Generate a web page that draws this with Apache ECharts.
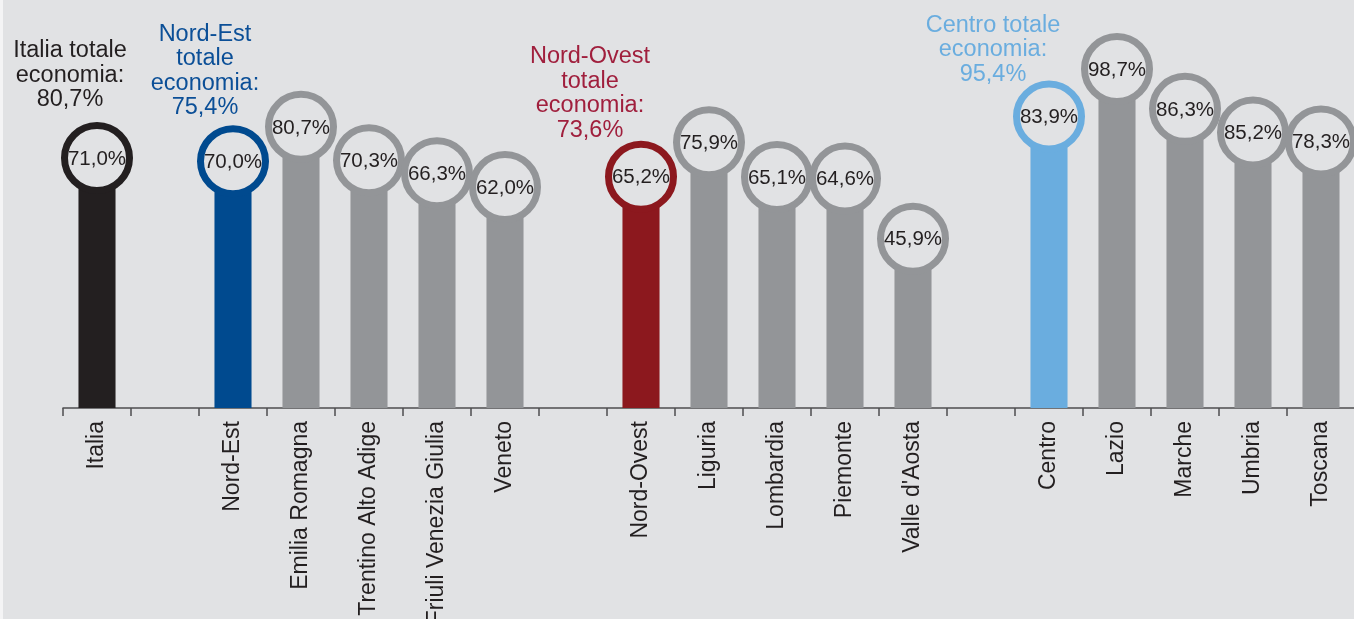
<!DOCTYPE html>
<html>
<head>
<meta charset="utf-8">
<script src="https://cdn.jsdelivr.net/npm/echarts@6/dist/echarts.min.js"></script>
<style>
  html, body { margin: 0; padding: 0; background: #e1e2e4; }
  #chart { width: 1354px; height: 619px; }
</style>
</head>
<body>
<div id="chart"></div>
<script>
// ---- Data ----
const categories = ['Italia', '', 'Nord-Est', 'Emilia Romagna', 'Trentino Alto Adige', 'Friuli Venezia Giulia', 'Veneto', '',
  'Nord-Ovest', 'Liguria', 'Lombardia', 'Piemonte', "Valle d'Aosta", '',
  'Centro', 'Lazio', 'Marche', 'Umbria', 'Toscana'];
const values = [71.0, null, 70.0, 80.7, 70.3, 66.3, 62.0, null,
  65.2, 75.9, 65.1, 64.6, 45.9, null,
  83.9, 98.7, 86.3, 85.2, 78.3];
// "totale economia" annotations
const noteCategories = ['Italia', 'Nord-Est', 'Nord-Ovest', 'Centro'];
const noteHeads = ['Italia totale', 'Nord-Est\ntotale', 'Nord-Ovest\ntotale', 'Centro totale'];
const noteTotals = [80.7, 75.4, 73.6, 95.4];

// ---- Styling ----
const BG = '#e1e2e4';
const GRAY = '#939598';
const leadColors = { 'Italia': '#231f20', 'Nord-Est': '#004a8f', 'Nord-Ovest': '#8c181e', 'Centro': '#6aaddf' };
const noteColors = ['#231f20', '#0b4f97', '#a01f3d', '#6aaddf'];
const noteOffsets = [[-27, -46], [-28, -41], [-51, -34], [-56, -30]]; // px, relative to bubble centre
const bubbleNudge = { 'Umbria': 20, 'Toscana': 7 }; // overlap avoidance, px
const Y_MIN = -6.8, Y_MAX = 100;
const FONT = '"Liberation Sans", Arial, Helvetica, sans-serif';

const fmt = v => v.toFixed(1).replace('.', ',') + '%';

const chart = echarts.init(document.getElementById('chart'), null, { renderer: 'canvas' });

const seriesData = categories.map((c, i) => [i, values[i] == null ? '-' : values[i]]);

function renderItem(params, api) {
  const i = api.value(0);
  const v = api.value(1);
  if (v == null || isNaN(v)) return;
  const name = categories[i];
  const top = api.coord([i, v]);
  const base = api.coord([i, Y_MIN]);
  const bw = api.size([1, 0])[0] * 0.545;
  const color = leadColors[name] || GRAY;
  const cy = top[1] + (bubbleNudge[name] || 0);
  const children = [
    { type: 'rect', shape: { x: top[0] - bw / 2, y: top[1], width: bw, height: base[1] - top[1] }, style: { fill: color } },
    { type: 'circle', shape: { cx: top[0], cy: cy, r: 32.5 }, style: { fill: BG, stroke: color, lineWidth: 7 } },
    { type: 'text', style: { text: fmt(v), x: top[0], y: cy + 1, align: 'center', verticalAlign: 'middle',
        font: '20.5px ' + FONT, fill: '#231f20' } }
  ];
  const n = noteCategories.indexOf(name);
  if (n >= 0) {
    children.push({ type: 'text', style: {
      text: noteHeads[n] + '\neconomia:\n' + fmt(noteTotals[n]),
      x: top[0] + noteOffsets[n][0], y: cy + noteOffsets[n][1],
      align: 'center', verticalAlign: 'bottom', lineHeight: 24.5,
      font: '23.5px ' + FONT, fill: noteColors[n] } });
  }
  return { type: 'group', children };
}

chart.setOption({
  backgroundColor: BG,
  animation: false,
  grid: { left: 63, width: 1292, top: 408 - (Y_MAX - Y_MIN) * 3.213, bottom: 211, containLabel: false, outerBoundsMode: 'none' },
  xAxis: {
    type: 'category',
    data: categories,
    boundaryGap: true,
    axisLine: { show: true, onZero: false, lineStyle: { color: '#4d4d4f', width: 1.5 } },
    axisTick: { show: true, length: 8, interval: 0, lineStyle: { color: '#4d4d4f', width: 1.5 } },
    axisLabel: { interval: 0, rotate: 90, margin: 13, color: '#231f20', fontSize: 23, fontFamily: FONT }
  },
  yAxis: { type: 'value', min: Y_MIN, max: Y_MAX, show: false, splitLine: { show: false } },
  graphic: [{ type: 'rect', left: 0, top: 0, shape: { width: 3, height: 619 }, style: { fill: '#f4f4f5' }, z: 100 }],
  series: [{
    type: 'custom',
    renderItem,
    clip: false,
    encode: { x: 0, y: 1 },
    data: seriesData
  }]
});
</script>
</body>
</html>
